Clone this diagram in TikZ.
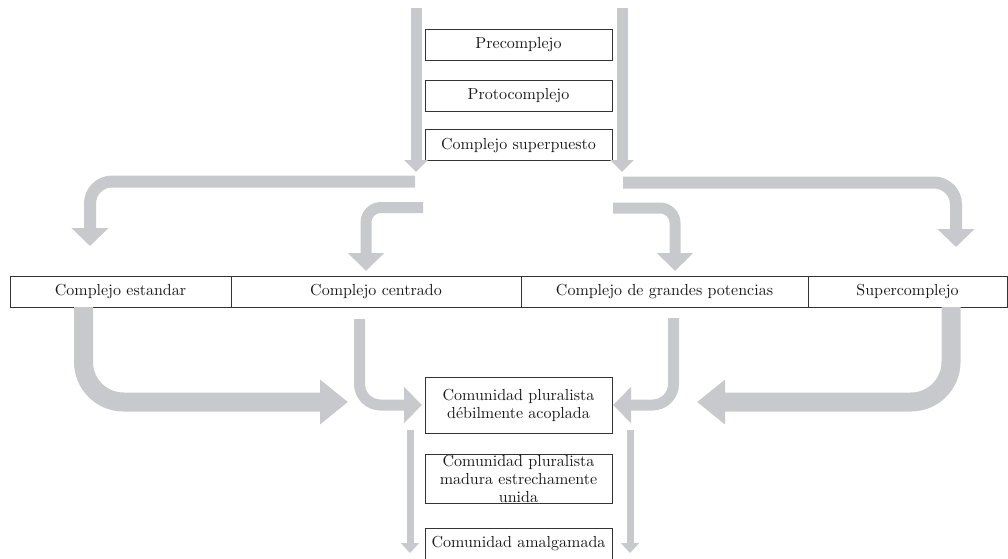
\documentclass[tikz,border=0pt]{standalone}
\usepackage{tikz}
\usetikzlibrary{arrows.meta,positioning}

\definecolor{flowgray}{RGB}{200,201,204}
\font\boxfont="[lmroman10-regular.otf]" at 16pt
\newcommand{\boxtype}{\boxfont\baselineskip=18pt\relax}

\begin{document}
\begin{tikzpicture}[x=1pt,y=1pt,node distance=20pt,
                    font=\boxtype,
                    box/.style={draw=black!80,line width=0.8pt,text=black!90,
                                inner sep=1pt,outer sep=0pt,minimum height=31pt,align=center},
                    phase/.style={box,minimum width=187pt,text width=185pt},
                    flowT/.style={flowgray,line width=11pt,-{Triangle[width=23pt,length=12pt]}},
                    flowS/.style={flowgray,line width=7pt,-{Triangle[width=18pt,length=10pt]}},
                    flowM/.style={flowgray,line width=11pt,rounded corners=15pt,
                                  -{Triangle[width=35pt,length=18pt]}},
                    flowL/.style={flowgray,line width=12pt,rounded corners=22pt,
                                  -{Triangle[width=36pt,length=18pt]}},
                    flowXL/.style={flowgray,line width=19pt,rounded corners=40pt,
                                   -{Triangle[width=43pt,length=28pt]}}]
  \useasboundingbox (0,0) rectangle (1008,558);

  % stages before the split
  \node[phase] (pre) at (518.5,513) {Precomplejo};
  \node[phase,below=of pre] (proto) {Protocomplejo};
  \node[phase,below=18pt of proto] (superp) {Complejo superpuesto};

  % the four kinds of complex
  \node[box,minimum width=221pt] (estandar) at (120.5,266.5) {Complejo estandar};
  \node[box,minimum width=290pt,right=0pt of estandar] (centrado) {Complejo centrado};
  \node[box,minimum width=287pt,right=0pt of centrado] (grandes) {Complejo de grandes potencias};
  \node[box,minimum width=199pt,right=0pt of grandes] (supercx) {Supercomplejo};

  % communities
  \node[phase,minimum height=56pt] (debil) at (518.5,153) {Comunidad pluralista\\débilmente acoplada};
  \node[phase,below=21pt of debil] (madura) {Comunidad pluralista\\madura estrechamente\\unida};
  \node[phase,below=25pt of madura] (amalg) {Comunidad amalgamada};

  \coordinate (inL)    at (416,550);
  \coordinate (outL)   at (416,386);
  \coordinate (inR)    at (622,550);
  \coordinate (outR)   at (622,386);
  \coordinate (splitA) at (415,376.5);
  \coordinate (splitB) at (423,350.5);
  \coordinate (splitC) at (613,350);
  \coordinate (splitD) at (623,375.5);
  \coordinate (toA)    at (90,312);
  \coordinate (toB)    at (366,287);
  \coordinate (toC)    at (675,287);
  \coordinate (toD)    at (956,311);
  \coordinate (fromA)  at (83.5,251);
  \coordinate (fromB)  at (359.5,239);
  \coordinate (fromC)  at (673.5,240);
  \coordinate (fromD)  at (951,251);
  \coordinate (joinA)  at (348,156);
  \coordinate (joinD)  at (697,156);
  \coordinate (downL)  at (410,128);
  \coordinate (endL)   at (410,5);
  \coordinate (downR)  at (630,128);
  \coordinate (endR)   at (630,5);

  \draw[flowT] (inL) -- (outL);
  \draw[flowT] (inR) -- (outR);

  \draw[flowL] (splitA) -| (toA);
  \draw[flowM] (splitB) -| (toB);
  \draw[flowM] (splitC) -| (toC);
  \draw[flowL] (splitD) -| (toD);

  \draw[flowXL] (fromA) |- (joinA);
  \draw[flowM,rounded corners=21pt,shorten >=3pt] (fromB) |- (debil.west);
  \draw[flowM,rounded corners=21pt,shorten >=1pt] (fromC) |- (debil.east);
  \draw[flowXL] (fromD) |- (joinD);

  \draw[flowS] (downL) -- (endL);
  \draw[flowS] (downR) -- (endR);
\end{tikzpicture}
\end{document}
